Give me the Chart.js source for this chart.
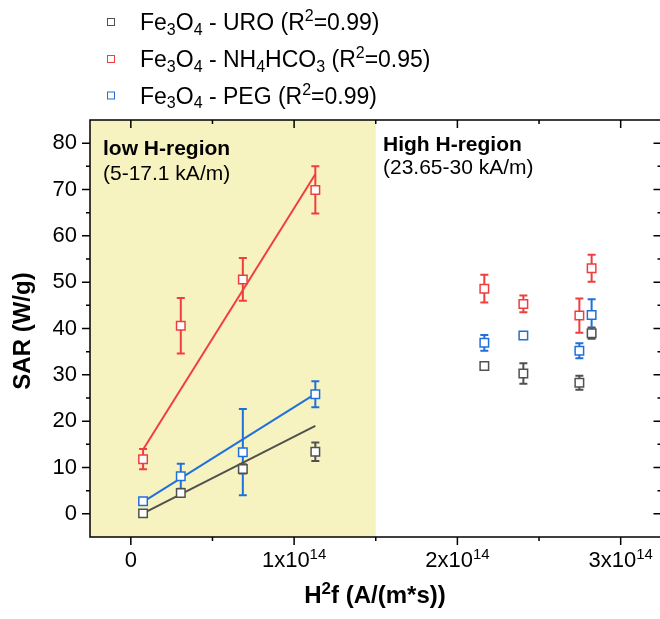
<!DOCTYPE html>
<html>
<head>
<meta charset="utf-8">
<script src="https://cdn.jsdelivr.net/npm/chart.js@4.4.1/dist/chart.umd.min.js"></script>
<style>
  body { margin: 0; overflow: hidden; background: #fff; }
  /* a bit wider than the window: the plot frame runs past the right edge */
  #wrap { width: 669px; height: 619px; position: relative; }
</style>
</head>
<body>
<div id="wrap"><canvas id="myChart"></canvas></div>
<script>
// H^2 f values (same for the three samples)
const hf = [0.075e14, 0.306e14, 0.686e14, 1.13e14, 2.165e14, 2.404e14, 2.747e14, 2.822e14];

// SAR values and error bars
const sarURO = [0.1, 4.5, 9.7, 13.4, 31.9, 30.3, 28.3, 39.0];
const errURO = [0.7, 0.7, 1.0, 2.0, 0.5, 2.2, 1.5, 1.2];
const sarNH4 = [11.8, 40.6, 50.6, 69.9, 48.6, 45.3, 42.8, 53.0];
const errNH4 = [2.2, 6.0, 4.6, 5.1, 3.0, 1.8, 3.7, 2.9];
const sarPEG = [2.7, 8.1, 13.3, 25.8, 36.9, 38.5, 35.2, 42.9];
const errPEG = [0.6, 2.7, 9.3, 2.8, 1.7, 0.5, 1.6, 3.4];

// linear fits in the low H-region (end points)
const fitX = [0.075e14, 1.13e14];
const fitURO = [0.1, 19.0];
const fitNH4 = [13.9, 73.3];
const fitPEG = [2.6, 25.9];

// axes
const xTicks = [0, 1e14, 2e14, 3e14];
const xMinorTicks = [0.5e14, 1.5e14, 2.5e14];
const xTickLabels = [[['0', '']], [['1x10', ''], ['14', 'sup']], [['2x10', ''], ['14', 'sup']], [['3x10', ''], ['14', 'sup']]];
const yTicks = [0, 10, 20, 30, 40, 50, 60, 70, 80];
const yMinorTicks = [5, 15, 25, 35, 45, 55, 65, 75];
const lowRegionEnd = 1.5e14;

const legendNames = [
	[['Fe', ''], ['3', 'sub'], ['O', ''], ['4', 'sub'], [' - URO (R', ''], ['2', 'sup'], ['=0.99)', '']],
	[['Fe', ''], ['3', 'sub'], ['O', ''], ['4', 'sub'], [' - NH', ''], ['4', 'sub'], ['HCO', ''], ['3', 'sub'], [' (R', ''], ['2', 'sup'], ['=0.95)', '']],
	[['Fe', ''], ['3', 'sub'], ['O', ''], ['4', 'sub'], [' - PEG (R', ''], ['2', 'sup'], ['=0.99)', '']]
];

const gray = 'rgb(80,80,80)';
const red = 'rgb(240,62,62)';
const blue = 'rgb(32,112,220)';
const FONT = '"Liberation Sans", Arial, sans-serif';

function pts(ys) {
	return hf.map((x, i) => ({x: x, y: ys[i]}));
}
function fitPts(ys) {
	return fitX.map((x, i) => ({x: x, y: ys[i]}));
}

// text with sub- and superscripts
function drawRich(ctx, parts, x, y, size, weight, align) {
	const small = Math.round(size * 0.7);
	const fontOf = k => weight + ' ' + (k ? small : size) + 'px ' + FONT;
	const widths = parts.map(p => { ctx.font = fontOf(p[1]); return ctx.measureText(p[0]).width; });
	const total = widths.reduce((a, b) => a + b, 0);
	let cx = align === 'center' ? x - total / 2 : x;
	ctx.textAlign = 'left';
	ctx.textBaseline = 'alphabetic';
	parts.forEach((p, i) => {
		ctx.font = fontOf(p[1]);
		let dy = 0;
		if (p[1] === 'sub') dy = size * 0.2;
		if (p[1] === 'sup') dy = -size * 0.38;
		ctx.fillText(p[0], cx, y + dy);
		cx += widths[i];
	});
}

const shadePlugin = {
	id: 'shade',
	beforeDraw(chart) {
		const {ctx, chartArea, scales} = chart;
		const xr = scales.x.getPixelForValue(lowRegionEnd);
		ctx.save();
		ctx.fillStyle = '#f7f3c0';
		ctx.fillRect(chartArea.left, chartArea.top, xr - chartArea.left, chartArea.bottom - chartArea.top);
		ctx.restore();
	}
};

const errorBars = [[sarURO, errURO, gray], [sarNH4, errNH4, red], [sarPEG, errPEG, blue]];

const errorBarPlugin = {
	id: 'errorBars',
	beforeDatasetsDraw(chart) {
		const {ctx, scales} = chart;
		ctx.save();
		ctx.lineWidth = 2;
		errorBars.forEach(([vals, errs, color]) => {
			ctx.strokeStyle = color;
			hf.forEach((x, i) => {
				const px = scales.x.getPixelForValue(x);
				const top = scales.y.getPixelForValue(vals[i] + errs[i]);
				const bot = scales.y.getPixelForValue(vals[i] - errs[i]);
				ctx.beginPath();
				ctx.moveTo(px, top); ctx.lineTo(px, bot);
				ctx.moveTo(px - 4, top); ctx.lineTo(px + 4, top);
				ctx.moveTo(px - 4, bot); ctx.lineTo(px + 4, bot);
				ctx.stroke();
			});
		});
		ctx.restore();
	}
};

const framePlugin = {
	id: 'frame',
	afterDraw(chart) {
		const {ctx, chartArea, scales} = chart;
		const {left, right, top, bottom} = chartArea;
		ctx.save();
		ctx.strokeStyle = '#000';
		ctx.lineWidth = 1.5;
		ctx.strokeRect(left, top, right - left, bottom - top);

		// major and minor ticks: out on left/bottom, in on top/right
		ctx.beginPath();
		const tickX = (vals, len) => vals.forEach(v => {
			const px = scales.x.getPixelForValue(v);
			ctx.moveTo(px, bottom); ctx.lineTo(px, bottom + len);
			ctx.moveTo(px, top); ctx.lineTo(px, top + len);
		});
		const tickY = (vals, len) => vals.forEach(v => {
			const py = scales.y.getPixelForValue(v);
			ctx.moveTo(left, py); ctx.lineTo(left - len, py);
			ctx.moveTo(right, py); ctx.lineTo(right - len, py);
		});
		tickX(xTicks, 8); tickX(xMinorTicks, 4);
		tickY(yTicks, 8); tickY(yMinorTicks, 4);
		ctx.stroke();

		ctx.fillStyle = '#000';
		xTicks.forEach((v, i) => {
			drawRich(ctx, xTickLabels[i], scales.x.getPixelForValue(v), 567, 22, 'normal', 'center');
		});

		// axis titles
		drawRich(ctx, [['H', ''], ['2', 'sup'], ['f (A/(m*s))', '']], 375, 603, 24, 'bold', 'center');
		ctx.save();
		ctx.translate(30, 331);
		ctx.rotate(-Math.PI / 2);
		drawRich(ctx, [['SAR (W/g)', '']], 0, 0, 24, 'bold', 'center');
		ctx.restore();

		// region notes
		drawRich(ctx, [['low H-region', '']], 103, 155, 21, 'bold', 'left');
		drawRich(ctx, [['(5-17.1 kA/m)', '']], 103, 180, 21, 'normal', 'left');
		drawRich(ctx, [['High H-region', '']], 383, 151, 21, 'bold', 'left');
		drawRich(ctx, [['(23.65-30 kA/m)', '']], 383, 174, 21, 'normal', 'left');

		// legend
		const colors = [gray, red, blue];
		const rows = [22, 59, 95.5];
		ctx.lineWidth = 1;
		legendNames.forEach((parts, i) => {
			ctx.strokeStyle = colors[i];
			ctx.strokeRect(107.5, rows[i] - 3.5, 7, 7);
			ctx.fillStyle = '#000';
			drawRich(ctx, parts, 140, rows[i] + 8, 23, 'normal', 'left');
		});
		ctx.restore();
	}
};

function markerSet(label, ys, color) {
	return {
		label: label,
		data: pts(ys),
		pointStyle: 'rect',
		pointRadius: 6,
		borderWidth: 1.5,
		borderColor: color,
		backgroundColor: '#fff'
	};
}
function fitSet(ys, color) {
	return {
		data: fitPts(ys),
		showLine: true,
		pointRadius: 0,
		borderWidth: 2,
		borderColor: color
	};
}

const myChart = new Chart(document.getElementById('myChart'), {
	type: 'scatter',
	data: {
		datasets: [
			markerSet('URO', sarURO, gray),
			markerSet('NH4HCO3', sarNH4, red),
			markerSet('PEG', sarPEG, blue),
			fitSet(fitURO, gray),
			fitSet(fitNH4, red),
			fitSet(fitPEG, blue)
		]
	},
	options: {
		responsive: true,
		maintainAspectRatio: false,
		animation: false,
		layout: { padding: { top: 120, right: 2, left: 0, bottom: 0 } },
		plugins: { legend: { display: false }, tooltip: { enabled: false } },
		scales: {
			x: {
				type: 'linear',
				min: -0.25e14,
				max: 3.25e14,
				grid: { display: false, drawTicks: false },
				border: { display: false },
				ticks: { display: false },
				afterFit: s => { s.height = 82; }
			},
			y: {
				min: -5,
				max: 85,
				grid: { display: false, drawTicks: false },
				border: { display: false },
				afterBuildTicks: s => { s.ticks = yTicks.map(v => ({value: v})); },
				ticks: { font: { family: FONT, size: 22 }, color: '#000', padding: 13 },
				afterFit: s => { s.width = 90; }
			}
		}
	},
	plugins: [shadePlugin, errorBarPlugin, framePlugin]
});
</script>
</body>
</html>
